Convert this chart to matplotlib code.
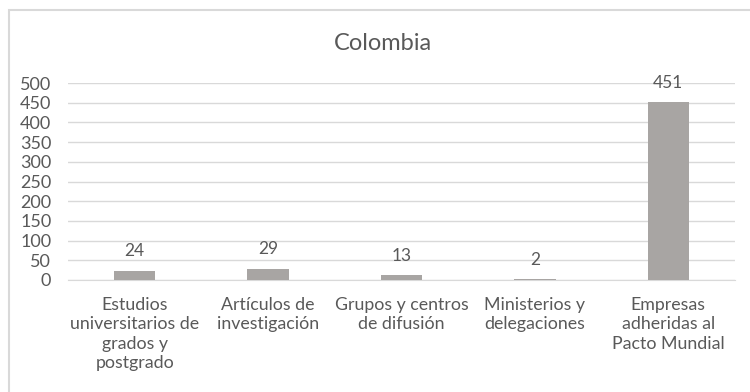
import matplotlib.pyplot as plt
from matplotlib.patches import Rectangle

plt.rcParams['font.family'] = ['Lato', 'DejaVu Sans']

# datos
categorias = ['Estudios\nuniversitarios de\ngrados y\npostgrado',
              'Artículos de\ninvestigación',
              'Grupos y centros\nde difusión',
              'Ministerios y\ndelegaciones',
              'Empresas\nadheridas al\nPacto Mundial']
valores = [24, 29, 13, 2, 451]
ticks_y = [0, 50, 100, 150, 200, 250, 300, 350, 400, 450, 500]

gris_texto = '#595959'
gris_linea = '#D9D9D9'

fig = plt.figure(figsize=(7.5, 3.92), dpi=100)
ax = fig.add_axes([68/750, 1 - 280/392, (735-68)/750, (280-83)/392])

x = range(len(valores))
ax.bar(x, valores, width=0.31, color='#A8A5A3', zorder=3)
for i, v in zip(x, valores):
    ax.annotate(str(v), (i, v), xytext=(0, 8), textcoords='offset points',
                ha='center', va='bottom', fontsize=12.5, color=gris_texto)

ax.set_xlim(-0.5, len(valores) - 0.5)
ax.set_ylim(0, 500)
ax.set_yticks(ticks_y)
ax.set_yticklabels([str(t) for t in ticks_y])
ax.yaxis.grid(True, color=gris_linea, linewidth=1)
ax.set_axisbelow(True)
ax.set_xticks(list(x))
ax.set_xticklabels(categorias, fontsize=12.8, color=gris_texto, linespacing=1.27, va='top')
ax.tick_params(axis='y', labelsize=13, colors=gris_texto, length=0, pad=12)
ax.tick_params(axis='x', length=0, pad=12)
for lado in ['top', 'right', 'left']:
    ax.spines[lado].set_visible(False)
ax.spines['bottom'].set_color(gris_linea)

fig.text(383/750, 1 - 43/392, 'Colombia', ha='center', va='center', fontsize=17, color=gris_texto)

# marco del grafico
fig.patches.append(Rectangle((9/750, -0.1), 1.2, 1 - 10/392 + 0.1, transform=fig.transFigure,
                             fill=False, edgecolor=gris_linea, linewidth=1.5))

fig.savefig('out.png', dpi=100)
